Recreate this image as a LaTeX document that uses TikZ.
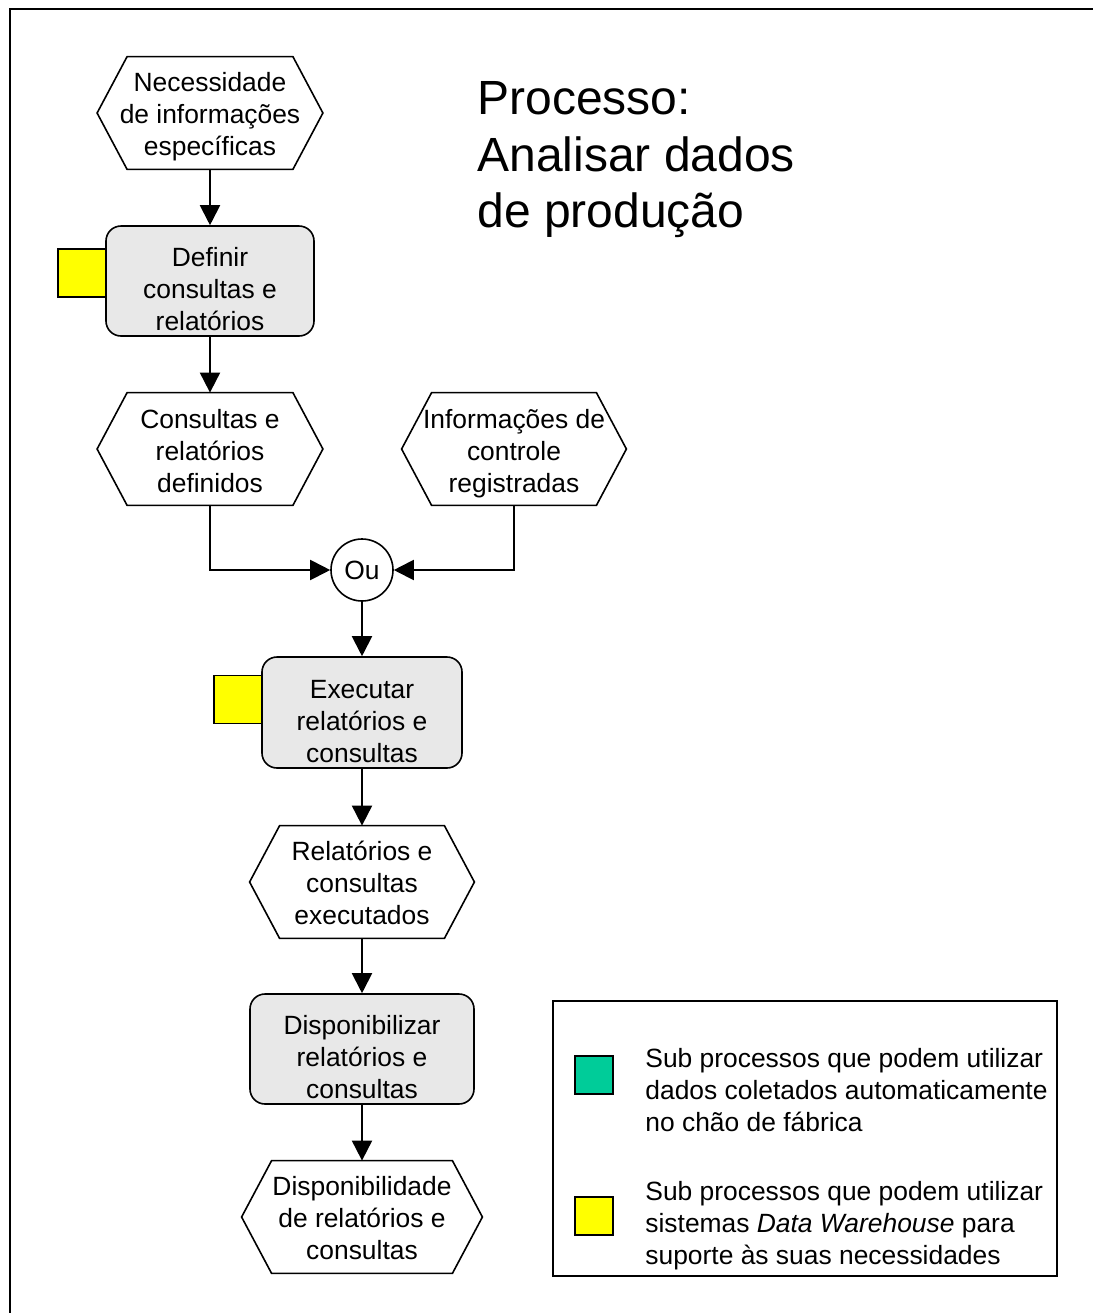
\documentclass[tikz,border=0pt]{standalone}
\usepackage{fontspec}
\setmainfont{Liberation Sans}
\usetikzlibrary{arrows.meta,calc}
\definecolor{taskgray}{HTML}{E8E8E8}
\definecolor{dwyellow}{HTML}{FFFF00}
\definecolor{autogreen}{HTML}{00CC99}
\newcommand\evtoutline[1]{%
  \draw[shapeline] (#1.west) -- ([xshift=15pt]#1.north west) -- ([xshift=-15pt]#1.north east)
    -- (#1.east) -- ([xshift=-15pt]#1.south east) -- ([xshift=15pt]#1.south west) -- cycle;}
\begin{document}
\begin{tikzpicture}[x=0.5pt,y=-0.5pt,
  every node/.style={font=\fontsize{13.2pt}{16pt}\selectfont, align=center, inner sep=0pt},
  shapeline/.style={line width=0.8pt, line join=miter},
  evt/.style={minimum height=56pt},
  taskbox/.style={draw, line width=0.8pt, fill=taskgray, rounded corners=7.5pt},
  dwbox/.style={draw, line width=0.8pt, fill=dwyellow, minimum size=24pt},
  flow/.style={line width=1pt, -{Triangle[length=10pt,width=10pt]}},
]
\useasboundingbox (0,0) rectangle (1093,1313);
% page frame (continues past the right and bottom edges)
\draw[line width=1.25pt] (10,9) rectangle (1130,1350);

% title
\node[anchor=west, align=left, font=\fontsize{24pt}{28.25pt}\selectfont] (title) at (477,160)
  {Processo:\\Analisar dados\\de produção};

% events: outline box plus its text, nudged to sit optically centred
\node[evt, minimum width=112.5pt] (nec) at (210,113) {};
\evtoutline{nec}
\node (nectxt) at ([yshift=-2pt]nec.center) {Necessidade\\de informações\\específicas};
\node[evt, minimum width=112.5pt] (cdef) at (210,449) {};
\evtoutline{cdef}
\node (cdeftxt) at ([yshift=-1pt]cdef.center) {Consultas e\\relatórios\\definidos};
\node[evt, minimum width=112pt] (info) at (514,449) {};
\evtoutline{info}
\node (infotxt) at ([yshift=-2.5pt]info.center) {Informações de\\controle\\registradas};
\node[evt, minimum width=112pt] (rexe) at (362,882) {};
\evtoutline{rexe}
\node (rexetxt) at ([yshift=-0.5pt]rexe.center) {Relatórios e\\consultas\\executados};
\node[evt, minimum width=120pt] (disp) at (362,1217) {};
\evtoutline{disp}
\node (disptxt) at ([yshift=-0.5pt]disp.center) {Disponibilidade\\de relatórios e\\consultas};

% functions
\node[dwbox] (dw1) at (82,273) {};
\node[taskbox, minimum width=104pt, minimum height=55pt] (t1) at (210,281) {};
\node (t1txt) at ([yshift=-4pt]t1.center) {Definir\\consultas e\\relatórios};
\node[dwbox] (dw2) at (238,699.5) {};
\node[taskbox, minimum width=100pt, minimum height=55.5pt] (t2) at (362,712.5) {};
\node (t2txt) at ([yshift=-4.5pt]t2.center) {Executar\\relatórios e\\consultas};
\node[taskbox, minimum width=112pt, minimum height=55pt] (t3) at (362,1049) {};
\node (t3txt) at ([yshift=-4pt]t3.center) {Disponibilizar\\relatórios e\\consultas};

% connector
\node[draw, circle, line width=0.8pt, minimum size=31pt] (ou) at (362,570) {Ou};

% flow
\draw[flow] (nec) -- (t1);
\draw[flow] (t1) -- (cdef);
\draw[flow] (cdef.south) |- (ou.west);
\draw[flow] (info.south) |- (ou.east);
\draw[flow] (ou) -- (t2);
\draw[flow] (t2) -- (rexe);
\draw[flow] (rexe) -- (t3);
\draw[flow] (t3) -- (disp);

% legend
\node[draw, line width=1.2pt, minimum width=252pt, minimum height=137.5pt] (leg) at (805,1138.5) {};
\node[draw, line width=0.8pt, fill=autogreen, minimum size=19pt] (leggreen) at (594,1075) {};
\node[anchor=west, align=left] (legauto) at (645,1090)
  {Sub processos que podem utilizar\\dados coletados automaticamente\\no chão de fábrica};
\node[draw, line width=0.8pt, fill=dwyellow, minimum size=19pt] (legyellow) at (594,1216) {};
\node[anchor=west, align=left] (legdw) at (645,1226)
  {Sub processos que podem utilizar\\sistemas \textit{Data Warehouse} para\\suporte às suas necessidades};
\end{tikzpicture}
\end{document}
